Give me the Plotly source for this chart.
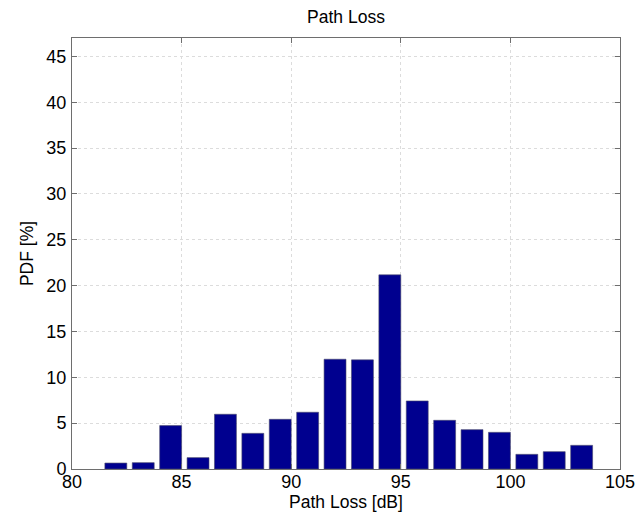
import plotly.graph_objects as go

# Histogram of path loss values (bin centres in dB, probability in %)
bin_centers = [82.0, 83.25, 84.5, 85.75, 87.0, 88.25, 89.5, 90.75, 92.0,
               93.25, 94.5, 95.75, 97.0, 98.25, 99.5, 100.75, 102.0, 103.25]
pdf_percent = [0.65, 0.69, 4.73, 1.24, 5.97, 3.89, 5.42, 6.19, 11.97,
               11.9, 21.17, 7.42, 5.31, 4.29, 4.0, 1.6, 1.89, 2.58]

x_ticks = [80, 85, 90, 95, 100, 105]
y_ticks = [0, 5, 10, 15, 20, 25, 30, 35, 40, 45]

font_family = "Liberation Sans, Arial, sans-serif"

fig = go.Figure(
    go.Bar(
        x=bin_centers,
        y=pdf_percent,
        width=1.0,
        marker=dict(color="#00008F", line=dict(color="#4a4a6a", width=0.6)),
    )
)

axis_common = dict(
    showline=True,
    linecolor="#6e6e6e",
    linewidth=1,
    mirror="ticks",
    ticks="inside",
    ticklen=5,
    tickcolor="#6e6e6e",
    showgrid=True,
    gridcolor="#dcdcdc",
    griddash="dot",
    gridwidth=1,
    zeroline=False,
    automargin=False,
    tickfont=dict(family=font_family, size=18, color="#000000"),
)

fig.update_xaxes(
    range=[80, 105],
    tickvals=x_ticks,
    ticklabelstandoff=-4,
    title=dict(text="Path Loss [dB]", font=dict(family=font_family, size=17.5, color="#000"), standoff=0),
    **axis_common,
)
fig.update_yaxes(
    range=[0, 47],
    tickvals=y_ticks,
    ticklabelstandoff=1,
    title=dict(text="PDF [%]", font=dict(family=font_family, size=17.5, color="#000"), standoff=8),
    **axis_common,
)

fig.update_layout(
    width=638,
    height=516,
    margin=dict(l=72, r=18, t=38, b=47),
    paper_bgcolor="white",
    plot_bgcolor="white",
    showlegend=False,
    title=dict(
        text="Path Loss",
        font=dict(family=font_family, size=17.5, color="#000"),
        x=0.5 * (72 + 620) / 638,
        xanchor="center",
        y=1 - 17 / 516,
        yanchor="middle",
    ),
)

fig.write_html("out.html")
